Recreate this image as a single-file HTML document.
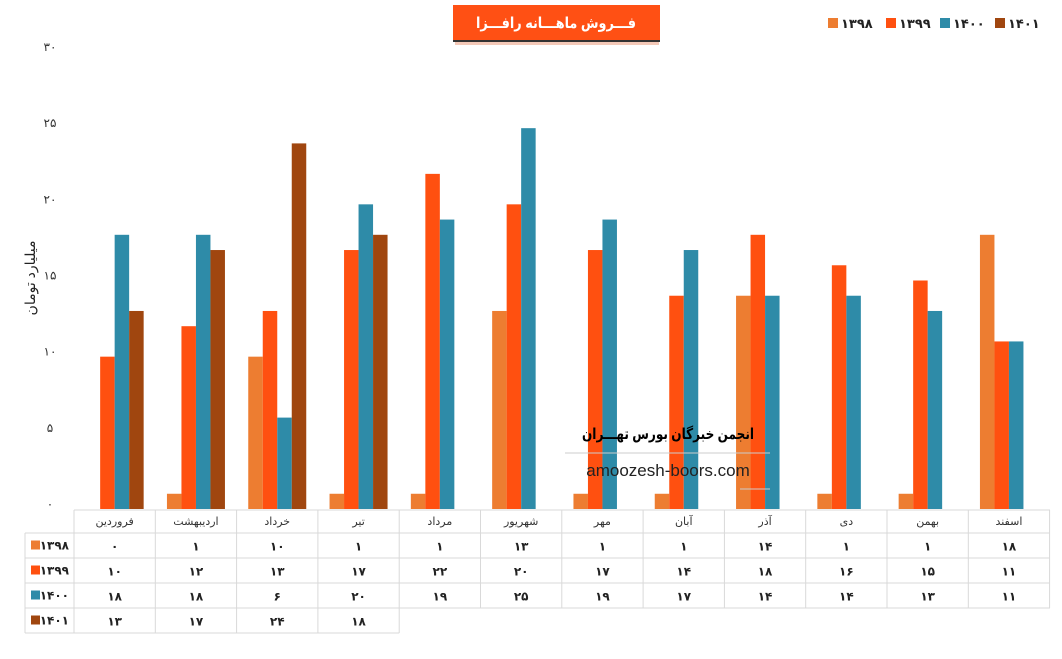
<!DOCTYPE html>
<html><head><meta charset="utf-8"><style>
body{margin:0;background:#fff;}
svg text{font-family:"Liberation Sans","DejaVu Sans",sans-serif;}
</style></head><body>
<svg id="c" width="1062" height="654" xmlns="http://www.w3.org/2000/svg"></svg>
<script>
const categories=["فروردین","اردیبهشت","خرداد","تیر","مرداد","شهریور","مهر","آبان","آذر","دی","بهمن","اسفند"];
const seriesNames=["۱۳۹۸","۱۳۹۹","۱۴۰۰","۱۴۰۱"];
const s1398=[0,1,10,1,1,13,1,1,14,1,1,18];
const s1399=[10,12,13,17,22,20,17,14,18,16,15,11];
const s1400=[18,18,6,20,19,25,19,17,14,14,13,11];
const s1401=[13,17,24,18,null,null,null,null,null,null,null,null];
const yTicks=[0,5,10,15,20,25,30];
const colors=["#ED7D31","#FF5010","#2E8BA8","#A0460F"];
const series=[s1398,s1399,s1400,s1401];
const svg=document.getElementById('c');const NS="http://www.w3.org/2000/svg";
function el(t,a,txt){const e=document.createElementNS(NS,t);for(const k in a)e.setAttribute(k,a[k]);if(txt!=null)e.textContent=txt;svg.appendChild(e);return e;}
const fa=n=>String(n).replace(/\d/g,d=>"۰۱۲۳۴۵۶۷۸۹"[d]);
const x0=74,colW=81.3,y0=509,yTop=52,yMax=30;
const y=v=>y0-(v/yMax)*(y0-yTop);
const bw=14.5;
yTicks.forEach(t=>{const e=el('text',{x:50,y:y(t)-1,'font-size':12,'text-anchor':'middle',fill:'#333'},fa(t));});
const yt=el('text',{x:35,y:278,'font-size':14,'text-anchor':'middle',fill:'#222',transform:'rotate(-90 35 278)'},'میلیارد تومان');

categories.forEach((c,i)=>{const gx=x0+i*colW+(colW-4*bw)/2;
series.forEach((s,j)=>{const v=s[i];if(v==null||v===0)return;
const r=el('rect',{x:gx+j*bw,y:y(v),width:bw,height:y0-y(v),fill:colors[j]});
});});
const rowsY=[510,533,558,583,608,633];
const gl='#d9d9d9';
el('line',{x1:x0,y1:510,x2:1050,y2:510,stroke:gl});
for(let r=1;r<rowsY.length;r++){el('line',{x1:25,y1:rowsY[r],x2:r===5?x0+4*colW:1050,y2:rowsY[r],stroke:gl});}
el('line',{x1:25,y1:533,x2:25,y2:633,stroke:gl});
for(let i=0;i<=12;i++){const xx=x0+i*colW;el('line',{x1:xx,y1:510,x2:xx,y2:(i<=4?633:608),stroke:gl});}
categories.forEach((c,i)=>{const e=el('text',{x:x0+i*colW+colW/2,y:525,'font-size':11,'text-anchor':'middle',fill:'#333'},c);});
series.forEach((s,j)=>{const cy=(rowsY[j+1]+rowsY[j+2])/2;
const k=el('rect',{x:31,y:cy-5,width:9,height:9,fill:colors[j]});
const t=el('text',{x:69,y:cy+4,'font-size':12,'font-weight':'bold','text-anchor':'end',fill:'#222'},seriesNames[j]);
s.forEach((v,i)=>{if(v==null)return;const e=el('text',{x:x0+i*colW+colW/2,y:cy+5,'font-size':12,'font-weight':'bold','text-anchor':'middle',fill:'#222'},fa(v));});});
el('rect',{x:455,y:42,width:204,height:3,fill:'#f4c9b8'});
el('rect',{x:453,y:40,width:207,height:2,fill:'#333'});
const tb=el('rect',{x:453,y:5,width:207,height:35,fill:'#FF5014'});
const tt=el('text',{x:556,y:28,'font-size':15,'font-weight':'bold','text-anchor':'middle',fill:'#fff',textLength:160,lengthAdjust:'spacingAndGlyphs'},'فـــروش ماهـــانه رافـــزا');
const lx=[828,886,940,995];
seriesNames.forEach((n,j)=>{const r=el('rect',{x:lx[j],y:18,width:10,height:10,fill:colors[j]});
const t=el('text',{x:lx[j]+13,y:28,'font-size':13,'font-weight':'bold',fill:'#222'},n);});
const w1=el('text',{x:668,y:439,'font-size':15,'font-weight':'bold','text-anchor':'middle',fill:'#000',textLength:172,lengthAdjust:'spacingAndGlyphs'},'انجمن خبرگان بورس تهـــران');
el('line',{x1:565,y1:453,x2:770,y2:453,stroke:'#ccc'});
const w2=el('text',{x:668,y:476,'font-size':17,'text-anchor':'middle',fill:'#222'},'amoozesh-boors.com');
el('line',{x1:740,y1:489,x2:770,y2:489,stroke:'#ccc'});
</script>
</body></html>
